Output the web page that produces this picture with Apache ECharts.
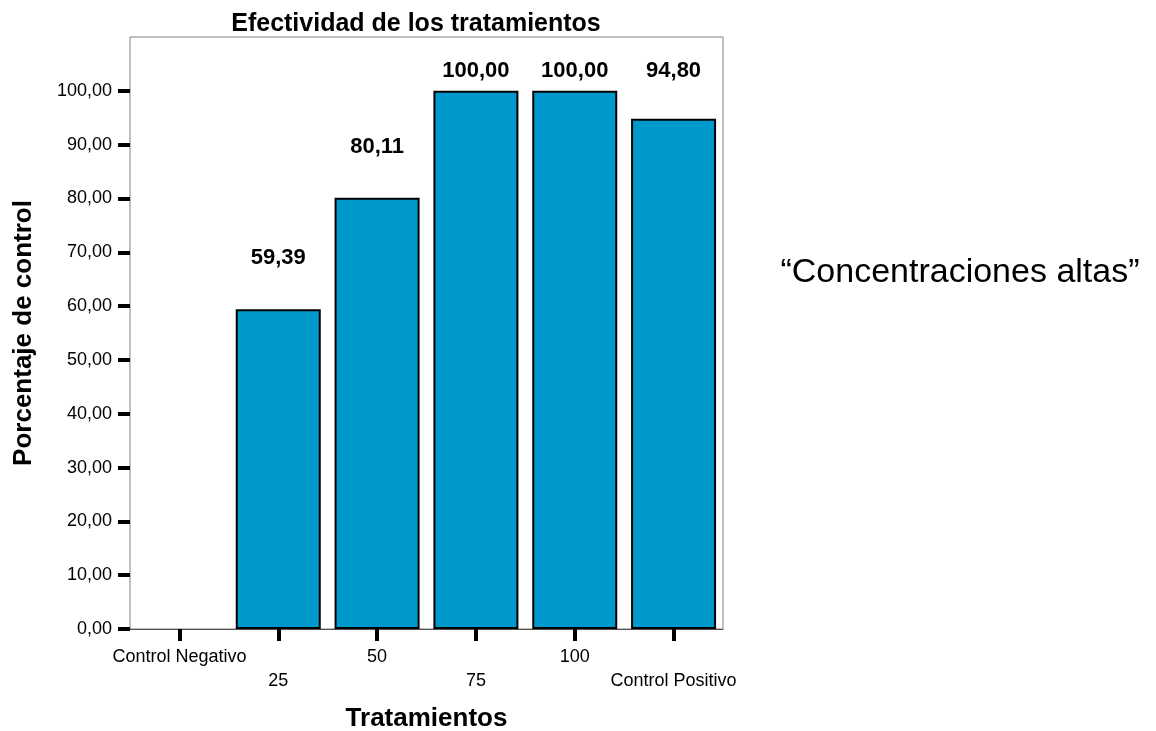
<!DOCTYPE html>
<html>
<head>
<meta charset="utf-8">
<title>Efectividad de los tratamientos</title>
<script src="https://cdn.jsdelivr.net/npm/echarts@6/dist/echarts.min.js"></script>
<style>
  html, body { margin: 0; padding: 0; background: #ffffff; }
  #chart { width: 1156px; height: 731px; }
</style>
</head>
<body>
<div id="chart"></div>
<script>
// Treatments on the x axis and the percentage of control reached by each one
const categories = ['Control Negativo', '25', '50', '75', '100', 'Control Positivo'];
const controlPct = [0, 59.39, 80.11, 100.00, 100.00, 94.80];
const yTickValues = [0, 10, 20, 30, 40, 50, 60, 70, 80, 90, 100];

const FONT = '"Liberation Sans", Arial, sans-serif';
const GRID = { left: 130, right: 433, top: 37, bottom: 102 };
const Y_MAX = 110;
const CHART_H = 731;

// Spanish decimal notation: 59,39
const fmt = v => Number(v).toFixed(2).replace('.', ',');

// Value labels sit a fixed gap above the bar, but are kept inside the frame
const LABEL_GAP = 40;
const LABEL_H = 22;
const MIN_LABEL_TOP = 23; // below the frame top
const plotH = CHART_H - GRID.top - GRID.bottom;
const barData = controlPct.map(v => {
  const barTopFromFrame = plotH * (1 - v / Y_MAX);
  const room = barTopFromFrame - MIN_LABEL_TOP - LABEL_H;
  const dist = Math.min(LABEL_GAP, room);
  return {
    value: v,
    label: { distance: dist, show: v > 0 },
    // an empty bar draws nothing, not even its outline
    itemStyle: v > 0 ? {} : { borderWidth: 0, opacity: 0 }
  };
});

const chart = echarts.init(document.getElementById('chart'), null, { renderer: 'canvas' });

chart.setOption({
  backgroundColor: '#ffffff',
  animation: false,
  textStyle: { fontFamily: FONT },
  grid: {
    left: GRID.left, right: GRID.right, top: GRID.top, bottom: GRID.bottom,
    containLabel: false, outerBoundsMode: 'none',
    show: true, borderColor: '#808080', borderWidth: 1, backgroundColor: 'transparent'
  },
  graphic: [
    {
      type: 'text', x: 416, y: 24,
      style: {
        text: 'Efectividad de los tratamientos',
        font: 'bold 25px ' + FONT, fill: '#000',
        textAlign: 'center', textVerticalAlign: 'middle'
      }
    },
    {
      type: 'text', x: 960, y: 273,
      style: {
        text: '\u201CConcentraciones altas\u201D',
        font: '34px ' + FONT, fill: '#000',
        textAlign: 'center', textVerticalAlign: 'middle'
      }
    }
  ],
  xAxis: {
    type: 'category',
    data: categories,
    name: 'Tratamientos',
    nameLocation: 'middle',
    nameGap: 77,
    nameTextStyle: { fontFamily: FONT, fontSize: 26, fontWeight: 'bold', color: '#000' },
    axisLine: { show: true, lineStyle: { color: '#505050', width: 1 } },
    axisTick: { show: true, alignWithLabel: true, length: 12, lineStyle: { color: '#000', width: 4 } },
    axisLabel: {
      interval: 0,
      margin: 16,
      fontFamily: FONT, fontSize: 18, color: '#000', lineHeight: 24,
      formatter: (val, idx) => (idx % 2 === 1 ? '\n' + val : val)
    },
    splitLine: { show: false }
  },
  yAxis: {
    type: 'value',
    min: 0, max: Y_MAX, interval: 10,
    name: 'Porcentaje de control',
    nameLocation: 'middle',
    nameRotate: 90,
    nameGap: 93,
    nameTextStyle: { fontFamily: FONT, fontSize: 26, fontWeight: 'bold', color: '#000' },
    axisLine: { show: false },
    axisTick: {
      show: true, length: 12, customValues: yTickValues,
      lineStyle: { color: '#000', width: 4 }
    },
    axisLabel: {
      customValues: yTickValues,
      margin: 18,
      fontFamily: FONT, fontSize: 18, color: '#000',
      formatter: v => fmt(v)
    },
    splitLine: { show: false }
  },
  series: [{
    type: 'bar',
    data: barData,
    barCategoryGap: '14%',
    itemStyle: { color: '#0099CC', borderColor: '#000', borderWidth: 2 },
    label: {
      show: true,
      position: 'top',
      fontFamily: FONT, fontSize: 22, fontWeight: 'bold', color: '#000',
      formatter: p => fmt(p.value)
    }
  }]
});
</script>
</body>
</html>
